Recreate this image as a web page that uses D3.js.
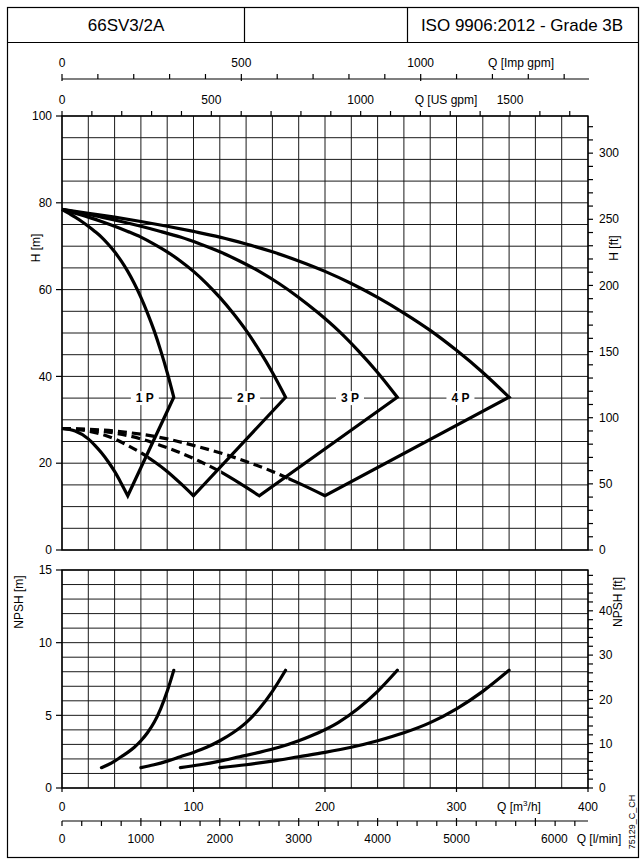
<!DOCTYPE html>
<html><head><meta charset="utf-8">
<script src="https://cdn.jsdelivr.net/npm/d3@7"></script>
<style>
body{margin:0;background:#fff}
svg{display:block}
text{font-family:"Liberation Sans",Arial,Helvetica,sans-serif;fill:#000}
</style>
</head><body>
<svg id="c" width="640" height="860"></svg>
<script>
// ---------------- data ----------------
const headerTitle = "66SV3/2A";
const headerStandard = "ISO 9906:2012 - Grade 3B";
const drawingCode = "75129_C_CH";

const pumpLabels = ["1 P", "2 P", "3 P", "4 P"];
const labelFlow = [63, 140, 219, 303];
const labelHead = 35;

// H-Q upper (max) curves, Q in m3/h, H in m
const upperHead = [78.5, 77.6, 76.7, 75.7, 74.6, 73.4, 72.1, 70.5, 68.7, 66.6, 64.2, 61.4, 58.2, 54.6, 50.6, 46.0, 40.9, 35.2];
const upperFlow1P = [0, 5, 10, 15, 20, 25, 30, 35, 40, 45, 50, 55, 60, 65, 70, 75, 80, 85];
const upperFlow2P = [0, 10, 20, 30, 40, 50, 60, 70, 80, 90, 100, 110, 120, 130, 140, 150, 160, 170];
const upperFlow3P = [0, 15, 30, 45, 60, 75, 90, 105, 120, 135, 150, 165, 180, 195, 210, 225, 240, 255];
const upperFlow4P = [0, 20, 40, 60, 80, 100, 120, 140, 160, 180, 200, 220, 240, 260, 280, 300, 320, 340];

// H-Q lower (min) curves
const lowerHead = [28.0, 27.4, 25.6, 24.1, 22.4, 20.4, 18.1, 15.4, 12.5];
const lowerFlow1P = [0, 10, 20, 25, 30, 35, 40, 45, 50];
const lowerFlow2P = [0, 20, 40, 50, 60, 70, 80, 90, 100];
const lowerFlow3P = [0, 30, 60, 75, 90, 105, 120, 135, 150];
const lowerFlow4P = [0, 40, 80, 100, 120, 140, 160, 180, 200];
// lower curve drawn dashed from Q = 0 up to this flow
const dashedUntil = [0, 65, 121, 172];

// NPSH curves
const npshValue  = [1.4, 1.6, 1.85, 2.15, 2.45, 2.8, 3.25, 3.8, 4.5, 5.45, 6.65, 8.1];
const npshFlow1P = [30, 35, 40, 45, 50, 55, 60, 65, 70, 75, 80, 85];
const npshFlow2P = [60, 70, 80, 90, 100, 110, 120, 130, 140, 150, 160, 170];
const npshFlow3P = [90, 105, 120, 135, 150, 165, 180, 195, 210, 225, 240, 255];
const npshFlow4P = [120, 140, 160, 180, 200, 220, 240, 260, 280, 300, 320, 340];

// tick labels
const headTicks = [0, 20, 40, 60, 80, 100];
const npshTicks = [0, 5, 10, 15];
const headFtTicks = [0, 50, 100, 150, 200, 250, 300];
const npshFtTicks = [0, 10, 20, 30, 40];
const flowM3hTicks = [0, 100, 200, 300, 400];
const flowLminTicks = [0, 1000, 2000, 3000, 4000, 5000, 6000];
const flowImpTicks = [0, 500, 1000];
const flowUSTicks = [0, 500, 1000, 1500];

// ---------------- drawing ----------------
const upperFlows = [upperFlow1P, upperFlow2P, upperFlow3P, upperFlow4P];
const lowerFlows = [lowerFlow1P, lowerFlow2P, lowerFlow3P, lowerFlow4P];
const npshFlows = [npshFlow1P, npshFlow2P, npshFlow3P, npshFlow4P];

const svg = d3.select("#c");
const FS = 12;

const x = d3.scaleLinear([0, 400], [62, 588]);
const yH = d3.scaleLinear([0, 100], [550, 116]);
const yN = d3.scaleLinear([0, 15], [788, 570]);
const xImp = d3.scaleLinear([0, 400 / 0.272765], [62, 588]);
const xUS = d3.scaleLinear([0, 400 / 0.2271247], [62, 588]);
const xLmin = d3.scaleLinear([0, 400 * 1000 / 60], [62, 588]);
const yFt = d3.scaleLinear([0, 100 / 0.3048], [550, 116]);
const yNFt = d3.scaleLinear([0, 15 / 0.3048], [788, 570]);

// frame + header
svg.append("rect").attr("x", 7.5).attr("y", 7.5).attr("width", 631).attr("height", 850)
  .attr("fill", "none").attr("stroke", "#000").attr("stroke-width", 1.2);
svg.append("line").attr("x1", 7.5).attr("x2", 638.5).attr("y1", 42.5).attr("y2", 42.5)
  .attr("stroke", "#000").attr("stroke-width", 1.2);
[244.5, 407.5].forEach(v => svg.append("line").attr("x1", v).attr("x2", v).attr("y1", 7.5).attr("y2", 42.5)
  .attr("stroke", "#000").attr("stroke-width", 1.2));
svg.append("text").attr("x", 126).attr("y", 31).attr("text-anchor", "middle").attr("font-size", 17).text(headerTitle);
svg.append("text").attr("x", 522).attr("y", 31).attr("text-anchor", "middle").attr("font-size", 17).text(headerStandard);

// grids
const grid = svg.append("g").attr("stroke", "#1a1a1a").attr("stroke-width", 1);
d3.range(0, 401, 20).forEach(q => {
  grid.append("line").attr("x1", x(q)).attr("x2", x(q)).attr("y1", yH(100)).attr("y2", yH(0));
  grid.append("line").attr("x1", x(q)).attr("x2", x(q)).attr("y1", yN(15)).attr("y2", yN(0));
});
d3.range(0, 101, 5).forEach(h => grid.append("line").attr("x1", x(0)).attr("x2", x(400)).attr("y1", yH(h)).attr("y2", yH(h)));
d3.range(0, 16, 1).forEach(h => grid.append("line").attr("x1", x(0)).attr("x2", x(400)).attr("y1", yN(h)).attr("y2", yN(h)));
svg.append("rect").attr("x", x(0)).attr("y", yH(100)).attr("width", x(400) - x(0)).attr("height", yH(0) - yH(100))
  .attr("fill", "none").attr("stroke", "#000").attr("stroke-width", 1.4);
svg.append("rect").attr("x", x(0)).attr("y", yN(15)).attr("width", x(400) - x(0)).attr("height", yN(0) - yN(15))
  .attr("fill", "none").attr("stroke", "#000").attr("stroke-width", 1.4);

const axes = svg.append("g").attr("stroke", "#000").attr("stroke-width", 1.2);
const labels = svg.append("g").attr("font-size", FS);

// left axes
headTicks.forEach(h => {
  axes.append("line").attr("x1", 56).attr("x2", x(0)).attr("y1", yH(h)).attr("y2", yH(h));
  labels.append("text").attr("x", 52).attr("y", yH(h)).attr("dy", "0.35em").attr("text-anchor", "end").text(h);
});
npshTicks.forEach(h => {
  axes.append("line").attr("x1", 56).attr("x2", x(0)).attr("y1", yN(h)).attr("y2", yN(h));
  labels.append("text").attr("x", 52).attr("y", yN(h)).attr("dy", "0.35em").attr("text-anchor", "end").text(h);
});
labels.append("text").attr("transform", "translate(40,248) rotate(-90)").attr("text-anchor", "middle").text("H [m]");
labels.append("text").attr("transform", "translate(23,602) rotate(-90)").attr("text-anchor", "middle").text("NPSH [m]");

// right axes
d3.range(0, 321, 10).forEach(f => axes.append("line").attr("x1", x(400)).attr("x2", x(400) + 5).attr("y1", yFt(f)).attr("y2", yFt(f)));
headFtTicks.forEach(f => labels.append("text").attr("x", 599).attr("y", yFt(f)).attr("dy", "0.35em").text(f));
d3.range(0, 49, 2).forEach(f => axes.append("line").attr("x1", x(400)).attr("x2", x(400) + 5).attr("y1", yNFt(f)).attr("y2", yNFt(f)));
npshFtTicks.forEach(f => labels.append("text").attr("x", 599).attr("y", yNFt(f)).attr("dy", "0.35em").text(f));
labels.append("text").attr("transform", "translate(618,248) rotate(-90)").attr("text-anchor", "middle").text("H [ft]");
labels.append("text").attr("transform", "translate(622,602) rotate(-90)").attr("text-anchor", "middle").text("NPSH [ft]");

// top Imp gpm axis
const yImp = 79;
axes.append("line").attr("x1", x(0)).attr("x2", x(400) + 1).attr("y1", yImp).attr("y2", yImp);
d3.range(0, 1401, 100).forEach(v => axes.append("line").attr("x1", xImp(v)).attr("x2", xImp(v))
  .attr("y1", yImp - 5).attr("y2", v % 500 === 0 ? yImp + 2 : yImp));
flowImpTicks.forEach(v => labels.append("text").attr("x", xImp(v)).attr("y", 67).attr("text-anchor", "middle").text(v));
labels.append("text").attr("x", 521).attr("y", 67).attr("text-anchor", "middle").text("Q [Imp gpm]");

// top US gpm axis
d3.range(0, 1701, 100).forEach(v => axes.append("line").attr("x1", xUS(v)).attr("x2", xUS(v))
  .attr("y1", yH(100) - 5).attr("y2", yH(100)));
flowUSTicks.forEach(v => labels.append("text").attr("x", xUS(v)).attr("y", 104).attr("text-anchor", "middle").text(v));
labels.append("text").attr("x", 446).attr("y", 104).attr("text-anchor", "middle").text("Q [US gpm]");

// bottom m3/h axis
flowM3hTicks.forEach(v => {
  axes.append("line").attr("x1", x(v)).attr("x2", x(v)).attr("y1", yN(0)).attr("y2", yN(0) + 4);
  labels.append("text").attr("x", x(v)).attr("y", 811).attr("text-anchor", "middle").text(v);
});
const qm = labels.append("text").attr("x", 519).attr("y", 811).attr("text-anchor", "middle");
qm.append("tspan").text("Q [m");
qm.append("tspan").attr("dy", -5).attr("font-size", 8).text("3");
qm.append("tspan").attr("dy", 5).text("/h]");

// bottom l/min axis
const yL = 821;
axes.append("line").attr("x1", x(0)).attr("x2", x(400)).attr("y1", yL).attr("y2", yL);
d3.range(0, 6501, 250).forEach(v => axes.append("line").attr("x1", xLmin(v)).attr("x2", xLmin(v))
  .attr("y1", v % 1000 === 0 && v > 0 ? yL - 3 : yL).attr("y2", yL + 5));
flowLminTicks.forEach(v => labels.append("text")
  .attr("x", v === 6000 ? xLmin(v) + 19 : xLmin(v)).attr("y", 843).attr("text-anchor", "middle").text(v));
labels.append("text").attr("x", 599).attr("y", 843).attr("text-anchor", "middle").text("Q [l/min]");
labels.append("text").attr("transform", "translate(635,822) rotate(-90)").attr("text-anchor", "middle")
  .attr("font-size", 9).text(drawingCode);

// ---------- curves ----------
const defs = svg.append("defs");
const curveG = svg.append("g").attr("fill", "none").attr("stroke", "#000").attr("stroke-width", 3.2);
const lineM = d3.line().x(d => x(d[0])).y(d => yH(d[1])).curve(d3.curveMonotoneX);

upperFlows.forEach((flows, i) => {
  const up = flows.map((q, j) => [q, upperHead[j]]);
  const low = lowerFlows[i].map((q, j) => [q, lowerHead[j]]);
  const lowRev = low.slice().reverse();
  const d = lineM(up) + "L" + x(lowRev[0][0]) + "," + yH(lowRev[0][1]) + lineM(lowRev).replace(/^M/, "L");
  const split = dashedUntil[i];
  const p = curveG.append("path").attr("d", d).attr("stroke-linejoin", "miter").attr("stroke-miterlimit", 12);
  if (split > 0) {
    const cid = "solid" + i;
    const cp = defs.append("clipPath").attr("id", cid);
    cp.append("rect").attr("x", 0).attr("y", 0).attr("width", x(split)).attr("height", yH(31));
    cp.append("rect").attr("x", x(split)).attr("y", 0).attr("width", 640 - x(split)).attr("height", 860);
    p.attr("clip-path", "url(#" + cid + ")");
    const did = "dash" + i;
    defs.append("clipPath").attr("id", did).append("rect").attr("x", 0).attr("y", 0).attr("width", x(split)).attr("height", 860);
    curveG.append("path").attr("d", lineM(low)).attr("stroke-dasharray", "9,5").attr("clip-path", "url(#" + did + ")");
  }
});

// pump labels
pumpLabels.forEach((t, i) => {
  svg.append("rect").attr("x", x(labelFlow[i]) - 14).attr("y", yH(labelHead) - 7).attr("width", 28).attr("height", 14).attr("fill", "#fff");
  svg.append("text").attr("x", x(labelFlow[i])).attr("y", yH(labelHead)).attr("dy", "0.36em")
    .attr("text-anchor", "middle").attr("font-size", 12).attr("font-weight", "bold").text(t);
});

// NPSH curves
const lineN = d3.line().x(d => x(d[0])).y(d => yN(d[1])).curve(d3.curveMonotoneX);
npshFlows.forEach(flows => {
  curveG.append("path").attr("d", lineN(flows.map((q, j) => [q, npshValue[j]]))).attr("stroke-linecap", "round");
});
</script>
</body></html>
